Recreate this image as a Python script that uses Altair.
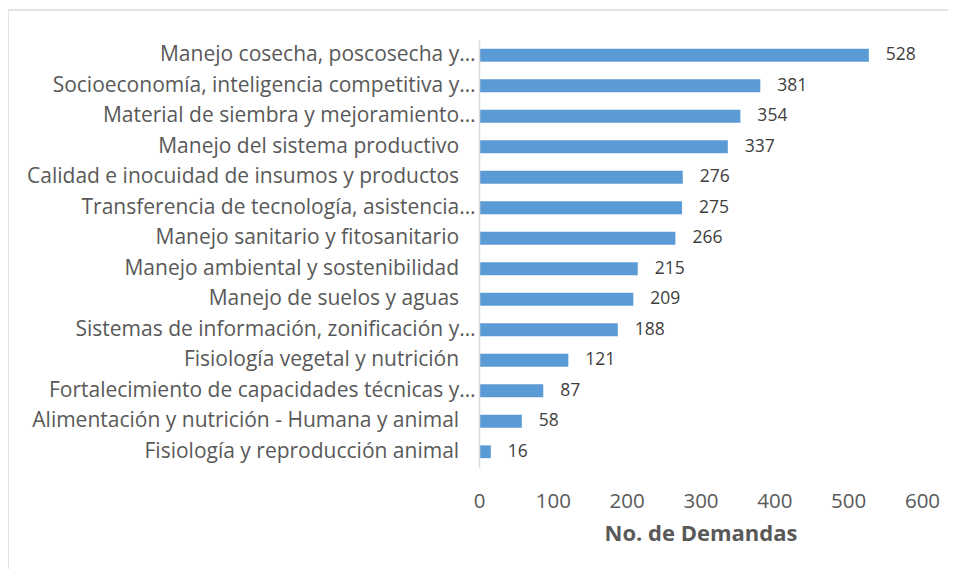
import altair as alt
import pandas as pd

NB = "\u00a0\u00a0\u00a0\u200b"
categories = [
    "Manejo cosecha, poscosecha y…",
    "Socioeconomía, inteligencia competitiva y…",
    "Material de siembra y mejoramiento…",
    "Manejo del sistema productivo" + NB,
    "Calidad e inocuidad de insumos y productos" + NB,
    "Transferencia de tecnología, asistencia…",
    "Manejo sanitario y fitosanitario" + NB,
    "Manejo ambiental y sostenibilidad" + NB,
    "Manejo de suelos y aguas" + NB,
    "Sistemas de información, zonificación y…",
    "Fisiología vegetal y nutrición" + NB,
    "Fortalecimiento de capacidades técnicas y…",
    "Alimentación y nutrición - Humana y animal" + NB,
    "Fisiología y reproducción animal" + NB,
]
values = [528, 381, 354, 337, 276, 275, 266, 215, 209, 188, 121, 87, 58, 16]
x_ticks = [0, 100, 200, 300, 400, 500, 600]

df = pd.DataFrame({"cat": categories, "val": values})
FONT = "Open Sans"

frame = alt.Chart(pd.DataFrame({"a": [0]})).mark_rect(
    fillOpacity=0, stroke="#d9d9d9", strokeWidth=1.5
).encode(
    x=alt.value(-471), x2=alt.value(700), y=alt.value(-30), y2=alt.value(800)
)

base = alt.Chart(df)
y_enc = alt.Y(
    "cat:N", sort=None, title=None,
    scale=alt.Scale(paddingInner=0.58, paddingOuter=0.29),
    axis=alt.Axis(
        ticks=False, labelFont=FONT, labelFontSize=21, labelColor="#595959",
        labelPadding=4, domainColor="#d9d9d9", domainWidth=1.5, labelLimit=0,
        zindex=1,
    ),
)
x_enc = alt.X(
    "val:Q", title="No. de Demandas",
    scale=alt.Scale(domain=[0, 600], nice=False),
    axis=alt.Axis(
        values=x_ticks, grid=False, domain=False, ticks=False, labelFlush=False,
        labelFont=FONT, labelFontSize=20.5, labelColor="#595959", labelPadding=24,
        titleFont=FONT, titleFontSize=22, titleFontWeight="bold", titleColor="#595959",
        titlePadding=12, zindex=1,
    ),
)

bars = base.mark_bar(color="#5B9BD5").encode(x=x_enc, y=y_enc)
labels = base.mark_text(
    align="left", baseline="middle", dx=17, font=FONT, fontSize=17.5, color="#404040"
).encode(x="val:Q", y=alt.Y("cat:N", sort=None), text="val:Q")

chart = alt.layer(frame, bars, labels).properties(
    width=443, height=427,
    autosize=alt.AutoSizeParams(type="none"),
    padding={"left": 471, "top": 32, "right": 26, "bottom": 102},
).configure_view(stroke=None)

chart.save("out.html", embed_options={"renderer": "svg", "actions": False})
